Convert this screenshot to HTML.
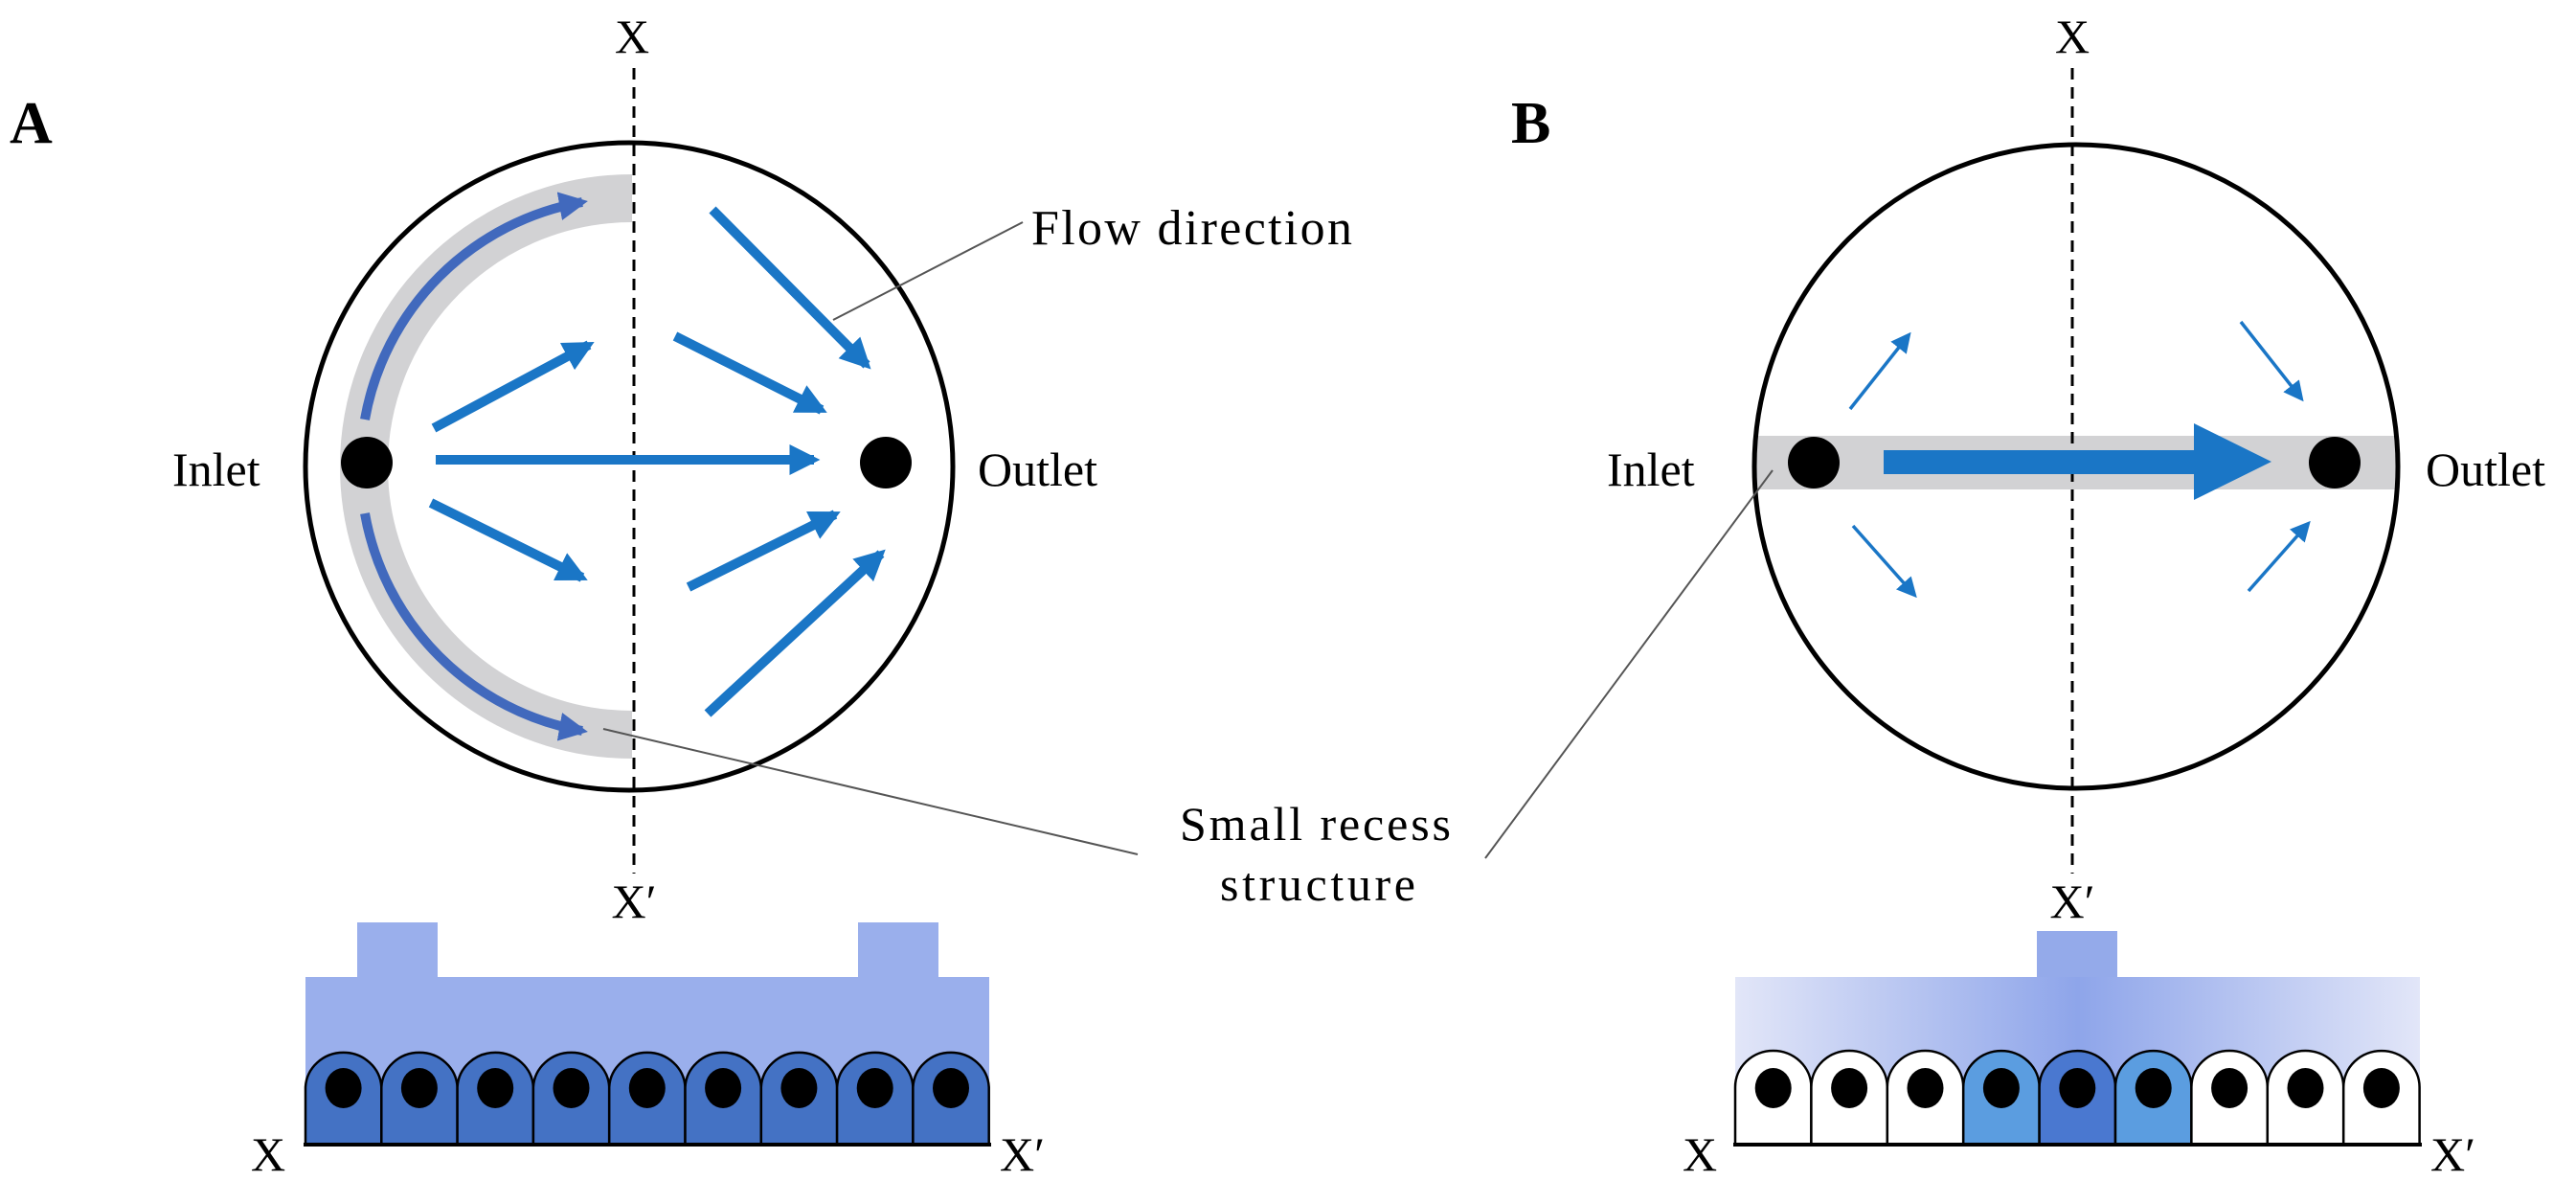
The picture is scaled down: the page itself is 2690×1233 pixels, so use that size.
<!DOCTYPE html>
<html><head><meta charset="utf-8"><style>html,body{margin:0;padding:0;background:#fff}svg{display:block}</style></head>
<body>
<svg width="2690" height="1233" viewBox="0 0 2690 1233" xmlns="http://www.w3.org/2000/svg" font-family="Liberation Serif, serif">
<defs>
<marker id="ah" viewBox="0 0 10 10" refX="8" refY="5" markerWidth="3.2" markerHeight="3.2" orient="auto" markerUnits="strokeWidth"><path d="M0,0 L10,5 L0,10 z" fill="#1a76c6"/></marker>
<marker id="ah2" viewBox="0 0 10 10" refX="8" refY="5" markerWidth="3" markerHeight="3" orient="auto" markerUnits="strokeWidth"><path d="M0,0 L10,5 L0,10 z" fill="#4169bd"/></marker>
<marker id="ah3" viewBox="0 0 10 10" refX="8" refY="5" markerWidth="6" markerHeight="6" orient="auto" markerUnits="strokeWidth"><path d="M0,0 L10,5 L0,10 z" fill="#1a76c6"/></marker>
<linearGradient id="gb" x1="0" x2="1" y1="0" y2="0">
<stop offset="0" stop-color="#e2e6f8"/><stop offset="0.5" stop-color="#8ea5ea"/><stop offset="1" stop-color="#e2e6f8"/></linearGradient>
</defs>

<!-- Panel A -->
<text x="10" y="149" font-size="62" font-weight="bold">A</text>
<text x="660" y="55" font-size="50" text-anchor="middle">X</text>
<path d="M660,207 A280,280 0 0 0 660,767" fill="none" stroke="#d2d2d4" stroke-width="50"/>
<circle cx="657" cy="487" r="338" fill="none" stroke="#000" stroke-width="5"/>
<line x1="662" y1="71" x2="662" y2="912" stroke="#000" stroke-width="3" stroke-dasharray="12,8"/>
<path d="M381,438 A280,280 0 0 1 608,211" fill="none" stroke="#4169bd" stroke-width="10" marker-end="url(#ah2)"/>
<path d="M381,536 A280,280 0 0 0 608,763" fill="none" stroke="#4169bd" stroke-width="10" marker-end="url(#ah2)"/>
<g stroke="#1a76c6" stroke-width="10" marker-end="url(#ah)">
<line x1="453" y1="447" x2="615" y2="360"/>
<line x1="455" y1="480" x2="850" y2="480"/>
<line x1="450" y1="525" x2="608" y2="603"/>
<line x1="744" y1="219" x2="905" y2="381"/>
<line x1="705" y1="351" x2="858" y2="428"/>
<line x1="719" y1="613" x2="872" y2="537"/>
<line x1="739" y1="745" x2="920" y2="578"/>
</g>
<circle cx="383" cy="483" r="27" fill="#000"/>
<circle cx="925" cy="483" r="27" fill="#000"/>
<text x="180" y="507" font-size="50">Inlet</text>
<text x="1021" y="507" font-size="50">Outlet</text>
<line x1="870" y1="334" x2="1068" y2="232" stroke="#555" stroke-width="2"/>
<text x="1077" y="255" font-size="52" textLength="335">Flow direction</text>
<line x1="630" y1="761" x2="1188" y2="892" stroke="#555" stroke-width="2"/>
<text x="1232" y="877" font-size="50" textLength="283">Small recess</text>
<text x="1274" y="940" font-size="50" textLength="204">structure</text>
<text x="662" y="958" font-size="50" text-anchor="middle">X′</text>
<rect x="373" y="963" width="84" height="70" fill="#9aafec"/>
<rect x="896" y="963" width="84" height="70" fill="#9aafec"/>
<rect x="319" y="1020" width="714" height="120" fill="#9aafec"/>
<g stroke="#000" stroke-width="2.5" fill="#4472c4">
<path d="M319,1195 v-60 a39.7,38 0 0 1 79.3,0 v60 z"/>
<path d="M398.3,1195 v-60 a39.7,38 0 0 1 79.3,0 v60 z"/>
<path d="M477.6,1195 v-60 a39.7,38 0 0 1 79.3,0 v60 z"/>
<path d="M556.9,1195 v-60 a39.7,38 0 0 1 79.3,0 v60 z"/>
<path d="M636.2,1195 v-60 a39.7,38 0 0 1 79.3,0 v60 z"/>
<path d="M715.5,1195 v-60 a39.7,38 0 0 1 79.3,0 v60 z"/>
<path d="M794.8,1195 v-60 a39.7,38 0 0 1 79.3,0 v60 z"/>
<path d="M874.1,1195 v-60 a39.7,38 0 0 1 79.3,0 v60 z"/>
<path d="M953.4,1195 v-60 a39.7,38 0 0 1 79.3,0 v60 z"/>
</g>
<g fill="#000">
<ellipse cx="358.6" cy="1136" rx="19" ry="21"/><ellipse cx="437.9" cy="1136" rx="19" ry="21"/><ellipse cx="517.2" cy="1136" rx="19" ry="21"/><ellipse cx="596.5" cy="1136" rx="19" ry="21"/><ellipse cx="675.8" cy="1136" rx="19" ry="21"/><ellipse cx="755.1" cy="1136" rx="19" ry="21"/><ellipse cx="834.4" cy="1136" rx="19" ry="21"/><ellipse cx="913.7" cy="1136" rx="19" ry="21"/><ellipse cx="993" cy="1136" rx="19" ry="21"/>
</g>
<line x1="317" y1="1195" x2="1035" y2="1195" stroke="#000" stroke-width="4"/>
<text x="262" y="1222" font-size="50">X</text>
<text x="1044" y="1222" font-size="50">X′</text>

<!-- Panel B -->
<text x="1578" y="149" font-size="62" font-weight="bold">B</text>
<text x="2164" y="55" font-size="50" text-anchor="middle">X</text>
<rect x="1834" y="455" width="669" height="56" fill="#d2d2d4"/>
<circle cx="2168" cy="487" r="336" fill="none" stroke="#000" stroke-width="5"/>
<line x1="2164" y1="71" x2="2164" y2="912" stroke="#000" stroke-width="3" stroke-dasharray="12,8"/>
<rect x="1967" y="470" width="326" height="25" fill="#1a76c6"/>
<path d="M2291,442 L2372,482 L2291,522 Z" fill="#1a76c6"/>
<g stroke="#1a76c6" stroke-width="3.5" marker-end="url(#ah3)">
<line x1="1932" y1="427" x2="1993" y2="350"/>
<line x1="1935" y1="549" x2="1999" y2="621"/>
<line x1="2340" y1="336" x2="2403" y2="416"/>
<line x1="2348" y1="617" x2="2410" y2="547"/>
</g>
<circle cx="1894" cy="483" r="27" fill="#000"/>
<circle cx="2438" cy="483" r="27" fill="#000"/>
<text x="1678" y="507" font-size="50">Inlet</text>
<text x="2533" y="507" font-size="50">Outlet</text>
<line x1="1551" y1="896" x2="1851" y2="491" stroke="#555" stroke-width="2"/>
<text x="2164" y="958" font-size="50" text-anchor="middle">X′</text>
<rect x="2127" y="972" width="84" height="60" fill="#94aaea"/>
<rect x="1812" y="1020" width="715" height="120" fill="url(#gb)"/>
<g stroke="#000" stroke-width="2.5">
<path fill="#fff" d="M1812,1195 v-60 a39.7,38 0 0 1 79.4,0 v60 z"/>
<path fill="#fff" d="M1891.4,1195 v-60 a39.7,38 0 0 1 79.4,0 v60 z"/>
<path fill="#fff" d="M1970.8,1195 v-60 a39.7,38 0 0 1 79.4,0 v60 z"/>
<path fill="#5b9de0" d="M2050.2,1195 v-60 a39.7,38 0 0 1 79.4,0 v60 z"/>
<path fill="#4a78d0" d="M2129.6,1195 v-60 a39.7,38 0 0 1 79.4,0 v60 z"/>
<path fill="#5b9de0" d="M2209,1195 v-60 a39.7,38 0 0 1 79.4,0 v60 z"/>
<path fill="#fff" d="M2288.4,1195 v-60 a39.7,38 0 0 1 79.4,0 v60 z"/>
<path fill="#fff" d="M2367.8,1195 v-60 a39.7,38 0 0 1 79.4,0 v60 z"/>
<path fill="#fff" d="M2447.2,1195 v-60 a39.7,38 0 0 1 79.4,0 v60 z"/>
</g>
<g fill="#000">
<ellipse cx="1851.7" cy="1136" rx="19" ry="21"/><ellipse cx="1931.1" cy="1136" rx="19" ry="21"/><ellipse cx="2010.5" cy="1136" rx="19" ry="21"/><ellipse cx="2089.9" cy="1136" rx="19" ry="21"/><ellipse cx="2169.3" cy="1136" rx="19" ry="21"/><ellipse cx="2248.7" cy="1136" rx="19" ry="21"/><ellipse cx="2328.1" cy="1136" rx="19" ry="21"/><ellipse cx="2407.5" cy="1136" rx="19" ry="21"/><ellipse cx="2486.9" cy="1136" rx="19" ry="21"/>
</g>
<line x1="1810" y1="1195" x2="2529" y2="1195" stroke="#000" stroke-width="4"/>
<text x="1757" y="1222" font-size="50">X</text>
<text x="2538" y="1222" font-size="50">X′</text>
</svg>
</body></html>
